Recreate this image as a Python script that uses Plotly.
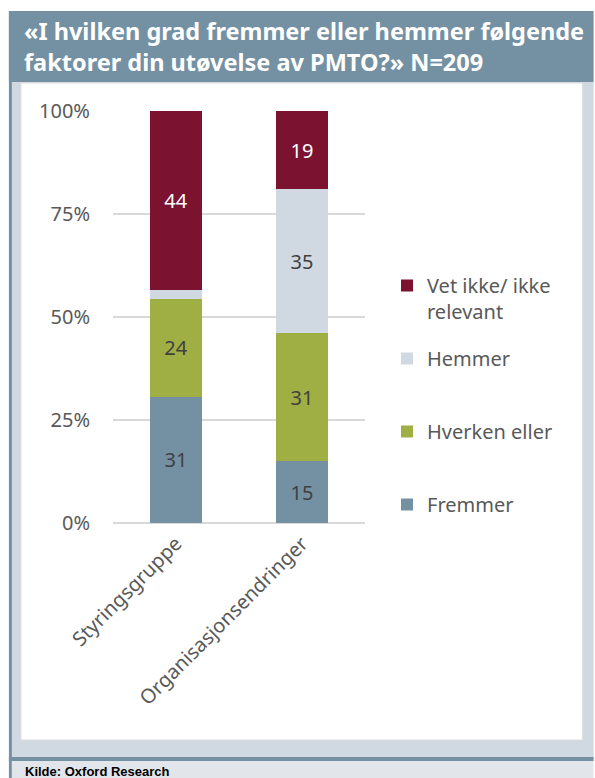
import plotly.graph_objects as go

# Survey responses per factor (counts shown on bars, stacked to 100 %)
categories = ["Styringsgruppe", "Organisasjonsendringer"]
series_names = ["Fremmer", "Hverken eller", "Hemmer", "Vet ikke/ ikke relevant"]
fremmer = [31, 15]
hverken = [24, 31]
hemmer = [2, 35]
vet_ikke = [44, 19]
y_ticks = [0, 25, 50, 75, 100]
y_tick_labels = [f"{v}%" for v in y_ticks]

W, H = 595, 778
PLOT_L, PLOT_R = 112.5, 365.5
PLOT_T, PLOT_B = 111, 523

BLUE = "#7491A4"
GREEN = "#A0AF44"
LIGHT = "#D0D9E1"
WINE = "#7B1230"
TEXT = "#595959"
FONT = "Noto Sans"
FS = 20


def px_x(px):
    return (px - PLOT_L) / (PLOT_R - PLOT_L)


def px_y(py):
    return (PLOT_B - py) / (PLOT_B - PLOT_T)


series = [
    (series_names[0], fremmer, BLUE, "#404040"),
    (series_names[1], hverken, GREEN, "#404040"),
    (series_names[2], hemmer, LIGHT, "#404040"),
    (series_names[3], vet_ikke, WINE, "#FFFFFF"),
]
legend_text = {
    "Fremmer": "Fremmer<br> ",
    "Hverken eller": "Hverken eller<br> ",
    "Hemmer": "Hemmer<br> ",
    "Vet ikke/ ikke relevant": "Vet ikke/ ikke<br>relevant",
}

fig = go.Figure()
for i, (name, vals, color, tcolor) in enumerate(series):
    labels = [str(v) if v >= 5 else "" for v in vals]
    fig.add_trace(go.Bar(
        x=categories, y=vals, name=legend_text[name],
        marker=dict(color=color, line=dict(width=0)),
        text=labels, texttemplate="%{text}", textposition="inside",
        insidetextanchor="middle",
        textfont=dict(family=FONT, size=FS, color=tcolor),
        legendgroup=name, legendrank=len(series) - i,
    ))

shapes = [
    # title banner
    dict(x0=px_x(8), x1=px_x(595), y0=px_y(11), y1=px_y(82), fillcolor=BLUE),
    # light frame panel
    dict(x0=px_x(11), x1=px_x(595), y0=px_y(82), y1=px_y(757), fillcolor=LIGHT),
    # white chart box
    dict(x0=px_x(20), x1=px_x(584), y0=px_y(83), y1=px_y(740), fillcolor="white",
         line=dict(color="#DCDCDC", width=1)),
    # left rule
    dict(x0=px_x(8), x1=px_x(11), y0=px_y(11), y1=px_y(778), fillcolor=BLUE),
    # bottom rule
    dict(x0=px_x(8), x1=px_x(595), y0=px_y(757), y1=px_y(761), fillcolor=BLUE),
    # source band
    dict(x0=px_x(11), x1=px_x(595), y0=px_y(761), y1=px_y(778), fillcolor="#E2E6EB"),
]
for s in shapes:
    s.update(type="rect", xref="paper", yref="paper", layer="below")
    s.setdefault("line", dict(width=0))
fig.update_layout(shapes=shapes)

annotations = [
    dict(text="<b>«I hvilken grad fremmer eller hemmer følgende</b>", x=px_x(21), y=px_y(31),
         font=dict(family=FONT, size=23.5, color="white")),
    dict(text="<b>faktorer din utøvelse av PMTO?» N=209</b>", x=px_x(21), y=px_y(62),
         font=dict(family=FONT, size=23.5, color="white")),
    dict(text="<b>Kilde: Oxford Research</b>", x=px_x(22), y=px_y(771),
         font=dict(family="Liberation Sans", size=13, color="#000000")),
]
for a in annotations:
    a.update(xref="paper", yref="paper", xanchor="left", yanchor="middle", showarrow=False)
fig.update_layout(annotations=annotations)

fig.update_layout(
    width=W, height=H,
    margin=dict(l=PLOT_L, r=W - PLOT_R, t=PLOT_T, b=H - PLOT_B, pad=0),
    barmode="stack", barnorm="percent", bargap=0.58,
    paper_bgcolor="white", plot_bgcolor="rgba(0,0,0,0)",
    font=dict(family=FONT, color=TEXT),
    showlegend=True,
    legend=dict(
        traceorder="grouped", tracegroupgap=18, valign="top",
        xref="container", yref="container", x=387 / W, y=1 - 266 / H,
        xanchor="left", yanchor="top",
        font=dict(family=FONT, size=FS, color=TEXT),
        bgcolor="rgba(0,0,0,0)",
    ),
    xaxis=dict(
        tickangle=-45, tickfont=dict(family=FONT, size=FS, color=TEXT),
        showline=False, ticks="", showgrid=False, ticklabelstandoff=4,
    ),
    yaxis=dict(
        range=[0, 100], tickvals=y_ticks, ticktext=y_tick_labels,
        tickfont=dict(family=FONT, size=FS, color=TEXT),
        showgrid=True, gridcolor="#D9D9D9", gridwidth=1.5,
        zeroline=True, zerolinecolor="#D9D9D9", zerolinewidth=1.5,
        ticklabelstandoff=22, showline=False, ticks="",
    ),
)

fig.write_html("out.html")
